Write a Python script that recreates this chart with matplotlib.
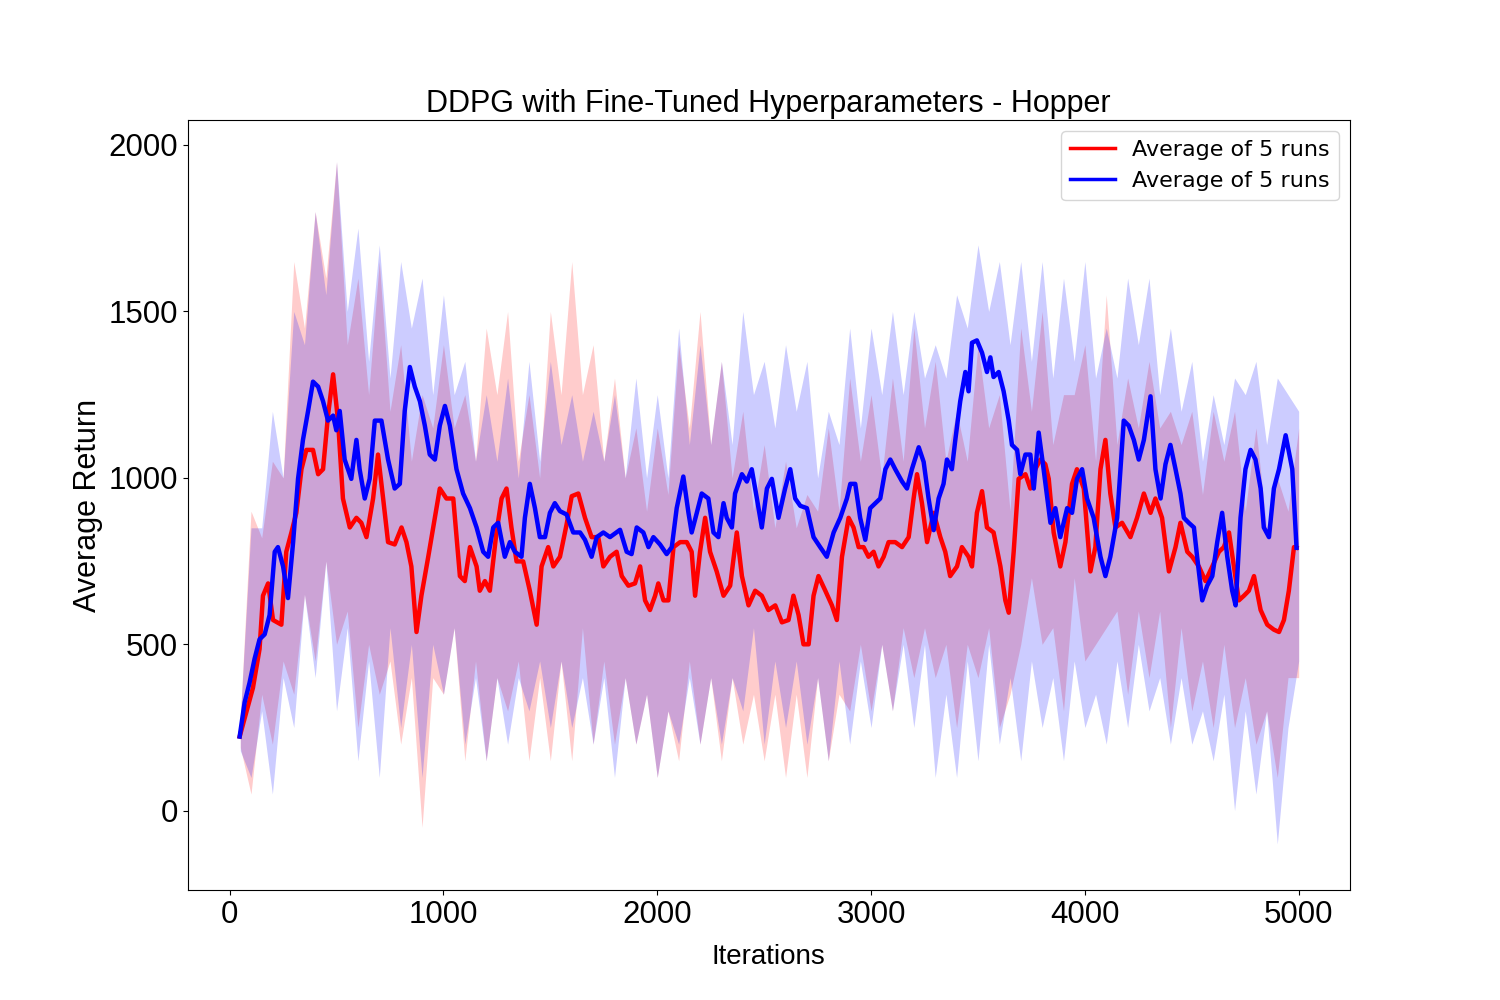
import matplotlib
matplotlib.use("Agg")
import matplotlib.pyplot as plt
from matplotlib.lines import Line2D

# ---- mean curves ----
red_x = [47, 109, 140, 156, 180, 203, 242, 265, 289, 312, 336, 359, 390, 414, 437, 460, 484, 507, 530, 562,
         593, 616, 640, 671, 694, 718, 741, 772, 804, 827, 850, 874, 897, 929, 960, 983, 1014, 1046, 1077, 1100,
         1124, 1155, 1170, 1194, 1217, 1248, 1272, 1295, 1318, 1342, 1373, 1404, 1436, 1459, 1490, 1514, 1545, 1576, 1600, 1631,
         1662, 1693, 1724, 1748, 1779, 1810, 1834, 1865, 1896, 1920, 1943, 1966, 1990, 2005, 2029, 2052, 2076, 2107, 2138, 2161,
         2177, 2200, 2224, 2247, 2278, 2310, 2341, 2372, 2396, 2427, 2458, 2489, 2520, 2552, 2583, 2614, 2637, 2661, 2684, 2708,
         2731, 2754, 2786, 2817, 2840, 2864, 2895, 2918, 2942, 2965, 2988, 3012, 3035, 3059, 3082, 3113, 3145, 3176, 3199, 3215,
         3238, 3262, 3293, 3324, 3347, 3370, 3402, 3425, 3456, 3472, 3495, 3519, 3542, 3573, 3605, 3628, 3644, 3667, 3690, 3722,
         3745, 3768, 3792, 3815, 3831, 3854, 3885, 3909, 3940, 3963, 3995, 4026, 4049, 4073, 4096, 4119, 4143, 4174, 4213, 4244,
         4276, 4307, 4330, 4361, 4393, 4424, 4447, 4479, 4502, 4533, 4564, 4596, 4627, 4650, 4674, 4697, 4720, 4744, 4767, 4791,
         4822, 4853, 4884, 4908, 4931, 4954, 4978, 4990]
red_mean = [223, 369, 486, 646, 683, 573, 559, 778, 836, 895, 1026, 1084, 1084, 1011, 1026, 1187, 1311, 1172, 938, 851,
            880, 865, 822, 938, 1070, 938, 807, 800, 851, 807, 734, 537, 646, 763, 880, 968, 938, 938, 705, 690,
            792, 734, 661, 690, 661, 836, 938, 968, 851, 749, 749, 661, 559, 734, 792, 734, 763, 860, 945, 953,
            880, 822, 822, 734, 763, 778, 705, 676, 683, 734, 632, 603, 646, 683, 632, 632, 792, 807, 807, 778,
            646, 778, 880, 778, 719, 646, 676, 836, 705, 617, 661, 646, 603, 617, 566, 573, 646, 588, 500, 500,
            646, 705, 661, 617, 573, 763, 880, 851, 792, 792, 763, 778, 734, 763, 807, 807, 792, 822, 938, 1011,
            924, 807, 895, 822, 778, 705, 734, 792, 763, 734, 895, 960, 851, 836, 734, 632, 595, 778, 997, 1011,
            968, 1026, 1055, 1041, 997, 836, 734, 807, 982, 1026, 968, 719, 792, 1026, 1114, 953, 851, 865, 822, 880,
            953, 895, 938, 880, 719, 792, 865, 778, 763, 734, 690, 734, 778, 792, 836, 734, 632, 646, 661, 705,
            603, 559, 544, 537, 573, 661, 792, 790]

blue_x = [47, 70, 93, 117, 140, 164, 187, 211, 226, 250, 273, 297, 320, 343, 367, 390, 414, 437, 460, 484,
          499, 515, 538, 569, 593, 608, 632, 655, 679, 710, 741, 772, 796, 819, 843, 866, 890, 913, 936, 960,
          983, 1007, 1030, 1061, 1092, 1124, 1155, 1186, 1209, 1233, 1256, 1287, 1311, 1334, 1365, 1381, 1404, 1428, 1451, 1475,
          1498, 1521, 1545, 1576, 1607, 1639, 1662, 1693, 1717, 1748, 1779, 1826, 1857, 1880, 1904, 1935, 1959, 1982, 2013, 2044,
          2068, 2091, 2122, 2146, 2161, 2185, 2208, 2239, 2263, 2286, 2310, 2325, 2349, 2364, 2396, 2419, 2442, 2466, 2489, 2513,
          2536, 2567, 2598, 2622, 2645, 2669, 2700, 2731, 2762, 2793, 2825, 2856, 2887, 2903, 2926, 2949, 2973, 2996, 3020, 3043,
          3067, 3090, 3113, 3145, 3168, 3191, 3223, 3246, 3269, 3293, 3316, 3339, 3355, 3378, 3394, 3417, 3441, 3456, 3472, 3495,
          3519, 3542, 3558, 3573, 3597, 3620, 3644, 3659, 3683, 3698, 3722, 3745, 3761, 3784, 3807, 3839, 3862, 3885, 3917, 3940,
          3963, 3987, 4010, 4041, 4073, 4096, 4119, 4151, 4182, 4205, 4229, 4252, 4276, 4307, 4330, 4354, 4377, 4400, 4424, 4447,
          4463, 4486, 4510, 4525, 4549, 4572, 4596, 4619, 4642, 4666, 4689, 4705, 4728, 4751, 4775, 4798, 4822, 4837, 4861, 4884,
          4908, 4939, 4970, 4990]
blue_mean = [223, 325, 384, 457, 515, 530, 588, 778, 792, 734, 639, 807, 997, 1114, 1201, 1289, 1274, 1230, 1172, 1187,
             1143, 1201, 1055, 997, 1114, 1026, 938, 997, 1172, 1172, 1055, 968, 982, 1201, 1333, 1274, 1230, 1157, 1070, 1055,
             1157, 1216, 1157, 1026, 953, 909, 851, 778, 763, 851, 865, 763, 807, 778, 763, 880, 982, 909, 822, 822,
             895, 924, 900, 890, 836, 836, 814, 763, 822, 836, 822, 844, 778, 771, 851, 836, 792, 822, 800, 771,
             792, 909, 1004, 895, 836, 895, 953, 938, 836, 822, 924, 880, 851, 953, 1011, 989, 1026, 938, 851, 968,
             997, 880, 968, 1026, 938, 916, 909, 822, 792, 763, 836, 880, 938, 982, 982, 880, 814, 909, 924, 938,
             1026, 1055, 1026, 989, 968, 1026, 1092, 1048, 938, 843, 938, 982, 1055, 1026, 1114, 1230, 1318, 1260, 1406, 1413,
             1376, 1318, 1362, 1303, 1318, 1260, 1172, 1099, 1084, 1011, 1070, 1070, 968, 1136, 1026, 865, 909, 822, 909, 895,
             997, 1026, 938, 880, 763, 705, 763, 880, 1172, 1157, 1114, 1055, 1114, 1245, 1026, 938, 1041, 1099, 1026, 953,
             880, 865, 851, 763, 632, 676, 705, 807, 895, 763, 661, 617, 880, 1026, 1084, 1055, 968, 851, 822, 968,
             1026, 1128, 1026, 790]

# ---- shaded spread (every 50 iterations) ----
band_x = list(range(50, 5001, 50))
red_hi = [280, 900, 820, 1050, 1000, 1650, 1450, 1800, 1600, 1950,
          1400, 1600, 1250, 1650, 1200, 1400, 1050, 1250, 1150, 1400,
          1150, 1250, 1050, 1450, 1250, 1500, 1050, 1250, 1000, 1500,
          1250, 1650, 1250, 1400, 1050, 1300, 1000, 1150, 900, 1150,
          950, 1400, 1150, 1500, 1100, 1350, 1000, 1200, 900, 1100,
          850, 1050, 850, 950, 900, 1150, 900, 1300, 1050, 1250,
          1000, 1300, 1050, 1450, 1150, 1350, 1050, 1200, 1050, 1400,
          1150, 1250, 900, 1450, 1200, 1500, 1100, 1250, 1250, 1400,
          1050, 1550, 1100, 1300, 1150, 1350, 1150, 1200, 1100, 1200,
          950, 1200, 1050, 1200, 900, 1150, 850, 1000, 900, 1150]
red_lo = [190, 50, 350, 200, 450, 350, 650, 450, 750, 500,
          600, 250, 500, 350, 450, 200, 400, -50, 400, 350,
          550, 150, 450, 150, 400, 300, 450, 150, 400, 150,
          450, 150, 550, 200, 450, 200, 400, 200, 350, 100,
          300, 150, 450, 200, 400, 150, 400, 200, 350, 150,
          350, 100, 350, 100, 400, 150, 350, 300, 500, 300,
          500, 300, 550, 400, 550, 400, 500, 250, 500, 400,
          550, 250, 350, 500, 700, 500, 550, 300, 700, 450,
          500, 550, 600, 350, 600, 400, 600, 250, 550, 300,
          450, 250, 500, 250, 400, 200, 300, 100, 400, 400]
blue_hi = [280, 850, 850, 1200, 1000, 1500, 1400, 1800, 1550, 1950,
           1500, 1750, 1350, 1700, 1300, 1650, 1450, 1600, 1250, 1550,
           1250, 1350, 1050, 1250, 1050, 1300, 1000, 1350, 1050, 1350,
           1100, 1250, 1050, 1200, 1050, 1250, 1000, 1300, 1000, 1250,
           1000, 1450, 1100, 1400, 1100, 1350, 1100, 1500, 1250, 1350,
           1150, 1400, 1200, 1350, 1000, 1200, 1100, 1450, 1150, 1450,
           1250, 1500, 1250, 1500, 1300, 1400, 1300, 1550, 1450, 1700,
           1500, 1650, 1400, 1650, 1350, 1650, 1300, 1600, 1350, 1650,
           1300, 1450, 1300, 1600, 1400, 1600, 1250, 1450, 1200, 1350,
           1050, 1250, 1100, 1300, 1250, 1350, 1100, 1300, 1250, 1200]
blue_lo = [180, 100, 300, 50, 400, 250, 650, 400, 750, 300,
           550, 150, 450, 100, 550, 250, 500, 100, 500, 350,
           550, 200, 400, 150, 400, 200, 400, 300, 450, 250,
           450, 250, 400, 200, 400, 100, 400, 200, 350, 100,
           300, 200, 400, 200, 400, 200, 400, 300, 550, 200,
           450, 250, 450, 200, 400, 150, 450, 200, 450, 250,
           500, 300, 500, 250, 500, 100, 350, 100, 450, 150,
           500, 200, 400, 150, 450, 250, 400, 150, 450, 250,
           350, 200, 450, 250, 500, 300, 400, 200, 400, 200,
           300, 150, 350, 0, 300, 50, 300, -100, 250, 450]

x_ticks = [0, 1000, 2000, 3000, 4000, 5000]
y_ticks = [0, 500, 1000, 1500, 2000]
legend_labels = ["Average of 5 runs", "Average of 5 runs"]

plt.rcParams['font.family'] = ['Liberation Sans', 'DejaVu Sans']

fig = plt.figure(figsize=(15, 10), dpi=100)
ax = fig.add_axes([0.125, 0.11, 0.775, 0.77])

ax.fill_between(band_x, red_lo, red_hi, color='red', alpha=0.2, linewidth=0)
ax.fill_between(band_x, blue_lo, blue_hi, color='blue', alpha=0.2, linewidth=0)
ax.plot(red_x, red_mean, color='red', linewidth=3.2)
ax.plot(blue_x, blue_mean, color='blue', linewidth=3.2)

ax.set_xlim(-197, 5240)
ax.set_ylim(-238, 2075)
ax.set_xticks(x_ticks)
ax.set_yticks(y_ticks)
ax.tick_params(labelsize=22.5)
ax.set_title("DDPG with Fine-Tuned Hyperparameters - Hopper", fontsize=22)
ax.set_xlabel("Iterations", fontsize=20, labelpad=10)
ax.set_ylabel("Average Return", fontsize=22)

handles = [Line2D([0], [0], color='red', linewidth=2.5),
           Line2D([0], [0], color='blue', linewidth=2.5)]
ax.legend(handles, legend_labels, loc='upper right',
          prop={'family': 'DejaVu Sans', 'size': 16})

fig.savefig("out.png", dpi=100)
